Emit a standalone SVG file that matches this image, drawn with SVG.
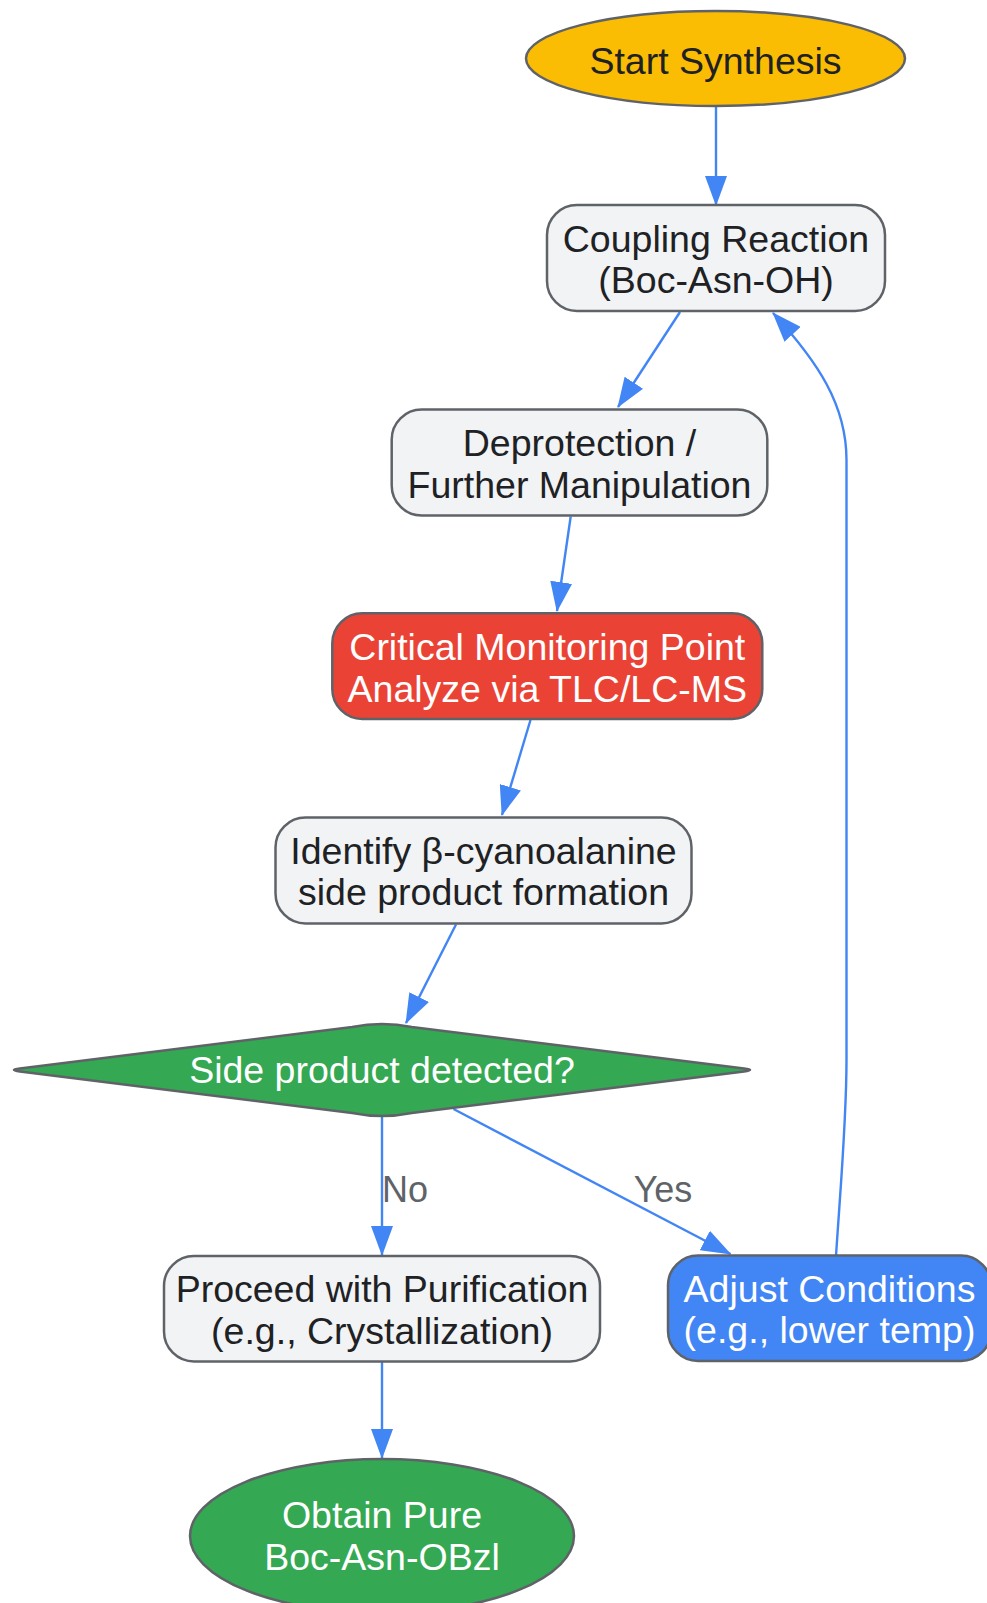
<svg xmlns="http://www.w3.org/2000/svg" width="987" height="1603" viewBox="0 0 987 1603">
<style>
  .node { stroke: #5f6368; stroke-width: 2.5; }
  .light { fill: #f1f3f4; }
  .t { font-family: "Liberation Sans", Arial, sans-serif; font-size: 37.5px; text-anchor: middle; }
  .dark { fill: #202124; }
  .white { fill: #ffffff; }
  .edge { fill: none; stroke: #4285f4; stroke-width: 2.4; }
  .lbl { font-family: "Liberation Sans", Arial, sans-serif; font-size: 36px; fill: #5f6368; text-anchor: middle; }
</style>
<defs>
  <marker id="arrow" viewBox="0 0 30 22" refX="29" refY="11" markerWidth="30" markerHeight="22" markerUnits="userSpaceOnUse" orient="auto">
    <path d="M0,0 L30,11 L0,22 z" fill="#4285f4"/>
  </marker>
</defs>
<rect width="987" height="1603" fill="#ffffff"/>

<g id="connectors">
  <path class="edge" d="M716,107 L716,205" marker-end="url(#arrow)"/>
  <path class="edge" d="M680,312 L618,407" marker-end="url(#arrow)"/>
  <path class="edge" d="M570.7,516.5 L557,611" marker-end="url(#arrow)"/>
  <path class="edge" d="M530.5,720 L502,815" marker-end="url(#arrow)"/>
  <path class="edge" d="M456,924.5 L406,1023" marker-end="url(#arrow)"/>
  <path class="edge" d="M382,1117 L382,1255" marker-end="url(#arrow)"/>
  <path class="edge" d="M453.5,1109 L730.5,1254" marker-end="url(#arrow)"/>
  <path class="edge" d="M836,1256 C841,1180 846.5,1120 846.5,1060 L846.5,460 C846.5,405 818,362 773,313" marker-end="url(#arrow)"/>
  <path class="edge" d="M382,1362 L382,1458" marker-end="url(#arrow)"/>
  <text class="lbl" x="405" y="1202">No</text>
  <text class="lbl" x="663" y="1202">Yes</text>
</g>

<g id="start">
  <ellipse class="node" cx="715.5" cy="58.5" rx="189.5" ry="47.5" fill="#fbbc04"/>
  <text class="t dark" x="715.5" y="73.5">Start Synthesis</text>
</g>

<g id="coupling">
  <rect class="node light" x="547" y="205" width="338" height="106" rx="30" ry="30"/>
  <text class="t dark" x="716" y="251.5">Coupling Reaction</text>
  <text class="t dark" x="716" y="293">(Boc-Asn-OH)</text>
</g>

<g id="deprotection">
  <rect class="node light" x="391.7" y="409.5" width="375.6" height="106" rx="30" ry="30"/>
  <text class="t dark" x="579.5" y="456">Deprotection /</text>
  <text class="t dark" x="579.5" y="497.5">Further Manipulation</text>
</g>

<g id="critical">
  <rect class="node" x="332.3" y="613.3" width="430" height="105.7" rx="30" ry="30" fill="#ea4335"/>
  <text class="t white" x="547.3" y="660">Critical Monitoring Point</text>
  <text class="t white" x="547.3" y="701.5">Analyze via TLC/LC-MS</text>
</g>

<g id="identify">
  <rect class="node light" x="275.5" y="817.5" width="416" height="106" rx="30" ry="30"/>
  <text class="t dark" x="483.5" y="863.5">Identify β-cyanoalanine</text>
  <text class="t dark" x="483.5" y="905">side product formation</text>
</g>

<g id="decision">
  <path class="node" fill="#34a853" stroke-linejoin="round" d="M19.9,1068.6 L352.2,1027 Q382,1021 411.8,1027 L744.1,1068.6 Q756,1070 744.1,1071.4 L411.8,1113 Q382,1119 352.2,1113 L19.9,1071.4 Q8,1070 19.9,1068.6 Z"/>
  <text class="t white" x="382" y="1082.5">Side product detected?</text>
</g>

<g id="proceed">
  <rect class="node light" x="164" y="1256" width="436" height="105.5" rx="30" ry="30"/>
  <text class="t dark" x="382" y="1302">Proceed with Purification</text>
  <text class="t dark" x="382" y="1343.5">(e.g., Crystallization)</text>
</g>

<g id="adjust">
  <rect class="node" x="668" y="1255.5" width="323" height="105.5" rx="30" ry="30" fill="#4285f4"/>
  <text class="t white" x="829.5" y="1301.5">Adjust Conditions</text>
  <text class="t white" x="829.5" y="1343">(e.g., lower temp)</text>
</g>

<g id="obtain">
  <ellipse class="node" cx="382" cy="1536" rx="192" ry="77" fill="#34a853"/>
  <text class="t white" x="382" y="1528">Obtain Pure</text>
  <text class="t white" x="382" y="1570">Boc-Asn-OBzl</text>
</g>
</svg>
